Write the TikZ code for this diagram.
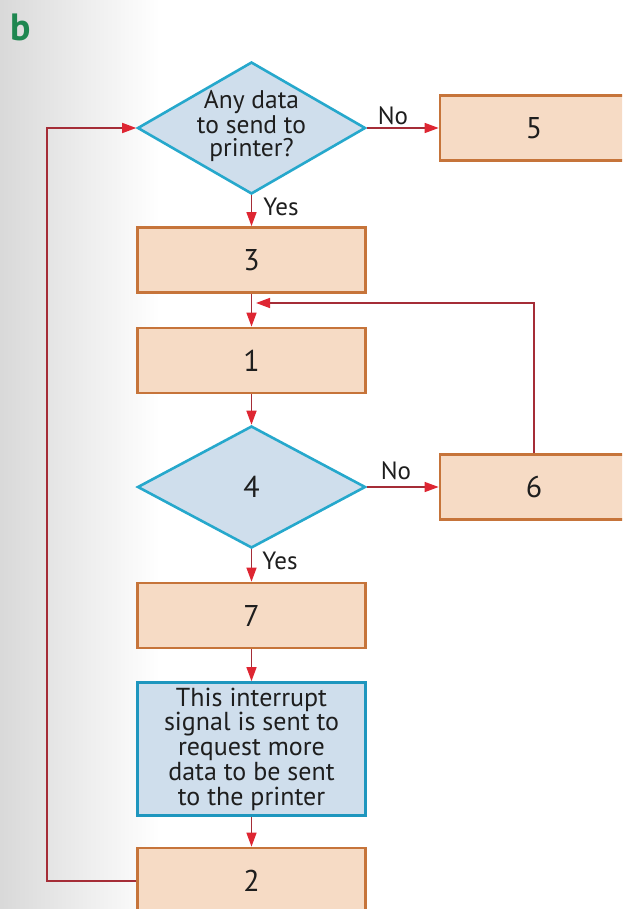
\documentclass[tikz,border=0pt]{standalone}
\usepackage{fontspec}
\setmainfont{PT Sans}
\usetikzlibrary{shapes.geometric,arrows.meta}
\definecolor{boxfill}{RGB}{246,219,197}
\definecolor{boxline}{RGB}{198,116,58}
\definecolor{decfill}{RGB}{207,222,236}
\definecolor{decline}{RGB}{38,168,204}
\definecolor{infoline}{RGB}{30,150,190}
\definecolor{connc}{RGB}{165,45,55}
\definecolor{tipred}{RGB}{222,38,50}
\definecolor{txt}{RGB}{30,30,30}
\definecolor{bgreen}{RGB}{30,135,80}
\begin{document}
\begin{tikzpicture}[x=1pt,y=-1pt,
  procbox/.style={draw=boxline, fill=boxfill, line width=2.8pt, minimum width=228pt, minimum height=65pt, inner sep=0pt, font=\fontsize{30}{30}\selectfont, text=txt},
  decbox/.style={diamond, draw=decline, fill=decfill, line width=2.6pt, minimum width=228pt, inner sep=0pt, font=\fontsize{30}{30}\selectfont, text=txt},
  dectext/.style={inner sep=0pt, align=center, font=\fontsize{25.5}{23}\selectfont, text=txt},
  infobox/.style={draw=infoline, fill=decfill, line width=2.8pt, minimum width=228pt, minimum height=133pt, inner sep=0pt, align=center, font=\fontsize{26}{24.7}\selectfont, text=txt},
  conn/.style={draw=connc, line width=1.5pt, -{Triangle[length=14pt,width=10pt,color=tipred]}},
  lbl/.style={font=\fontsize{25}{25}\selectfont, text=txt, inner sep=0pt}
]
\clip (0,0) rectangle (622,909);
\fill[white] (0,0) rectangle (622,909);
\shade[left color=black!15, right color=white] (0,0) rectangle (160,909);

\node[font=\fontsize{38}{38}\selectfont\bfseries, text=bgreen, inner sep=0pt] (blabel) at (21,27) {b};

\node[decbox, minimum height=132pt] (d1) at (251.5,128) {};
\node[dectext] (d1t) at (251.5,126) {Any data\\to send to\\printer?};
\node[procbox, minimum width=188pt] (b5) at (534,128) {5};
\node[procbox] (b3) at (251.5,260) {3};
\node[procbox] (b1) at (251.5,360.5) {1};
\node[decbox, minimum height=122pt] (d4) at (251.5,487) {4};
\node[procbox, minimum width=188pt] (b6) at (534,487) {6};
\node[procbox] (b7) at (251.5,615.5) {7};
\node[infobox] (bi) at (251.5,749) {This interrupt\\signal is sent to\\request more\\data to be sent\\to the printer};
\node[procbox, minimum height=66pt] (b2) at (251.5,881) {2};

\coordinate (join) at (256,303);
\coordinate (corner) at (47,881);

\draw[conn] (d1.south) -- (b3.north);
\draw[conn] (b3.south) -- (b1.north);
\draw[conn] (b1.south) -- (d4.north);
\draw[conn] (d4.south) -- (b7.north);
\draw[conn] (b7.south) -- (bi.north);
\draw[conn] (bi.south) -- (b2.north);
\draw[conn] (d1.east) -- (b5.west);
\draw[conn] (d4.east) -- (b6.west);
\draw[conn] (b6.north) |- (join);
\draw[conn] (b2.west) -- (corner) |- (d1.west);

\node[lbl] (no1) at (393,116) {No};
\node[lbl] (no2) at (396,471) {No};
\node[lbl] (yes1) at (281,207) {Yes};
\node[lbl] (yes2) at (280,561) {Yes};
\end{tikzpicture}
\end{document}
